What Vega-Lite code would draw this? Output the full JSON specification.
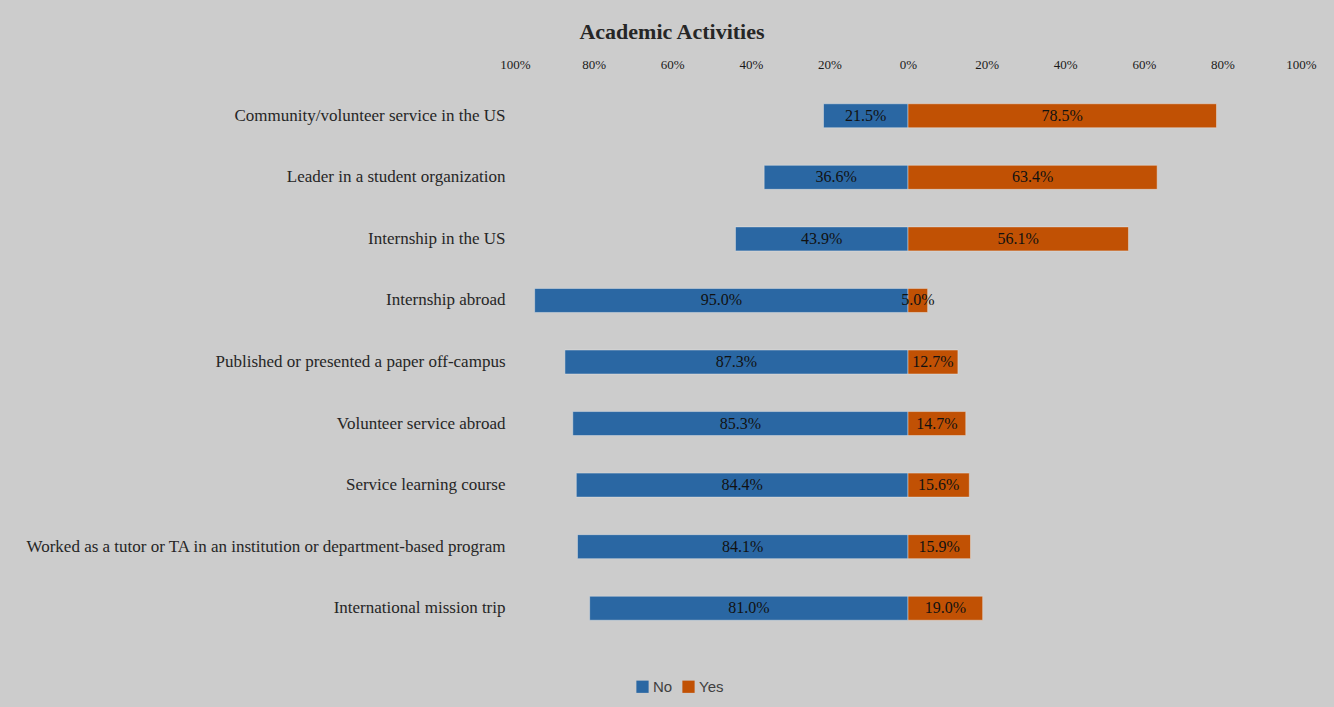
{
  "$schema": "https://vega.github.io/schema/vega-lite/v6.json",
  "width": 786,
  "height": 554,
  "autosize": {"type": "none"},
  "padding": {"left": 515, "top": 85, "right": 33, "bottom": 68},
  "background": "#cccccc",
  "config": {"view": {"stroke": null}},
  "title": {
    "text": "Academic Activities",
    "font": "Liberation Serif",
    "fontSize": 22,
    "fontWeight": "bold",
    "color": "#262626",
    "anchor": "middle",
    "frame": "group",
    "dx": -236,
    "offset": 14
  },
  "data": {
    "values": [
      {"activity": "Community/volunteer service in the US", "response": "No", "pct": 21.5},
      {"activity": "Community/volunteer service in the US", "response": "Yes", "pct": 78.5},
      {"activity": "Leader in a student organization", "response": "No", "pct": 36.6},
      {"activity": "Leader in a student organization", "response": "Yes", "pct": 63.4},
      {"activity": "Internship in the US", "response": "No", "pct": 43.9},
      {"activity": "Internship in the US", "response": "Yes", "pct": 56.1},
      {"activity": "Internship abroad", "response": "No", "pct": 95.0},
      {"activity": "Internship abroad", "response": "Yes", "pct": 5.0},
      {"activity": "Published or presented a paper off-campus", "response": "No", "pct": 87.3},
      {"activity": "Published or presented a paper off-campus", "response": "Yes", "pct": 12.7},
      {"activity": "Volunteer service abroad", "response": "No", "pct": 85.3},
      {"activity": "Volunteer service abroad", "response": "Yes", "pct": 14.7},
      {"activity": "Service learning course", "response": "No", "pct": 84.4},
      {"activity": "Service learning course", "response": "Yes", "pct": 15.6},
      {"activity": "Worked as a tutor or TA in an institution or department-based program", "response": "No", "pct": 84.1},
      {"activity": "Worked as a tutor or TA in an institution or department-based program", "response": "Yes", "pct": 15.9},
      {"activity": "International mission trip", "response": "No", "pct": 81.0},
      {"activity": "International mission trip", "response": "Yes", "pct": 19.0}
    ]
  },
  "transform": [
    {"calculate": "datum.response === 'No' ? -datum.pct : datum.pct", "as": "signed"},
    {"calculate": "datum.signed / 2", "as": "mid"},
    {"calculate": "format(datum.pct, '.1f') + '%'", "as": "label"}
  ],
  "encoding": {
    "y": {
      "field": "activity",
      "type": "nominal",
      "sort": null,
      "scale": {"paddingInner": 0, "paddingOuter": 0},
      "axis": {
        "title": null,
        "domain": false,
        "ticks": false,
        "labelFont": "Liberation Serif",
        "labelFontSize": 17,
        "labelColor": "#262626",
        "labelPadding": 10,
        "labelLimit": 700
      }
    }
  },
  "layer": [
    {
      "mark": {"type": "bar", "size": 24, "stroke": "#e6e6e6", "strokeWidth": 0.8, "strokeOpacity": 0.6},
      "encoding": {
        "x": {
          "field": "signed",
          "type": "quantitative",
          "scale": {"domain": [-100, 100], "nice": false},
          "axis": {
            "orient": "top",
            "title": null,
            "domain": false,
            "ticks": false,
            "grid": false,
            "values": [-100, -80, -60, -40, -20, 0, 20, 40, 60, 80, 100],
            "labelExpr": "abs(datum.value) + '%'",
            "labelFlush": false,
            "labelFont": "Liberation Serif",
            "labelFontSize": 13,
            "labelColor": "#1a1a1a",
            "labelPadding": 14
          }
        },
        "color": {
          "field": "response",
          "type": "nominal",
          "scale": {"domain": ["No", "Yes"], "range": ["#2a67a3", "#c15104"]},
          "legend": {
            "orient": "none",
            "legendX": 120,
            "legendY": 594,
            "direction": "horizontal",
            "title": null,
            "symbolType": "square",
            "symbolSize": 150,
            "symbolStrokeWidth": 0,
            "labelFont": "Liberation Sans",
            "labelFontSize": 15,
            "labelColor": "#404040",
            "labelOffset": 3,
            "columnPadding": 8
          }
        }
      }
    },
    {
      "mark": {"type": "rule", "color": "#a6a6a6", "strokeWidth": 2},
      "encoding": {"x": {"datum": 0, "type": "quantitative"}}
    },
    {
      "mark": {"type": "text", "font": "Liberation Serif", "fontSize": 16, "color": "#111111"},
      "encoding": {
        "x": {"field": "mid", "type": "quantitative"},
        "text": {"field": "label", "type": "nominal"}
      }
    }
  ]
}
